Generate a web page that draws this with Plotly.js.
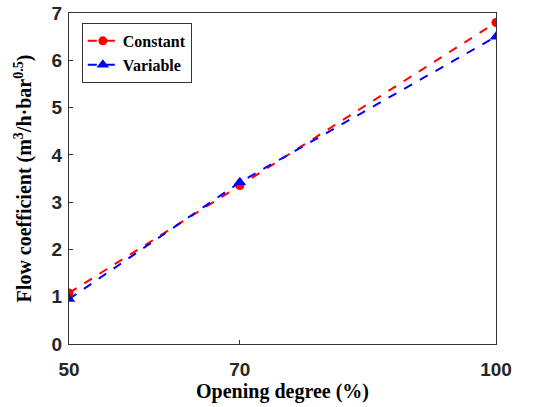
<!DOCTYPE html>
<html>
<head>
<meta charset="utf-8">
<script src="https://cdn.plot.ly/plotly-3.0.1.min.js"></script>
<style>html,body{margin:0;padding:0;background:#fff;}#chart{width:534px;height:407px;}</style>
</head>
<body>
<div id="chart"></div>
<script>
const opening = [50, 70, 100];
const constantFlow = [1.08, 3.35, 6.8];
const variableFlow = [0.95, 3.42, 6.5];
const xTicks = [50, 70, 100];
const yTicks = [0, 1, 2, 3, 4, 5, 6, 7];

const serif = 'Liberation Serif, Times New Roman, serif';
const sans = 'Liberation Sans, Arial, sans-serif';

const data = [
  {x: opening, y: constantFlow, name: '<b>Constant</b>', type: 'scatter', mode: 'lines+markers',
   line: {color: '#ff0000', width: 2, dash: 'dash'},
   marker: {color: '#ff0000', symbol: 'circle', size: 9}},
  {x: opening, y: variableFlow, name: '<b>Variable</b>', type: 'scatter', mode: 'lines+markers',
   line: {color: '#0000ff', width: 2, dash: 'dash'},
   marker: {color: '#0000ff', symbol: 'triangle-up', size: 11}}
];

const layout = {
  width: 534, height: 407,
  margin: {l: 69, r: 38, t: 13, b: 63},
  paper_bgcolor: '#fff', plot_bgcolor: '#fff',
  showlegend: true,
  legend: {x: 0.03, y: 0.97, xanchor: 'left', yanchor: 'top',
           bordercolor: '#333', borderwidth: 1, bgcolor: '#fff',
           font: {family: serif, size: 16, color: '#000'}, tracegroupgap: 2},
  xaxis: {range: [50, 100], tickvals: xTicks, ticktext: xTicks.map(String),
          ticks: 'inside', ticklen: 4, tickcolor: '#333',
          showline: true, linecolor: '#333', linewidth: 1, mirror: true,
          showgrid: false, zeroline: false, ticklabelstandoff: 8,
          tickfont: {family: sans, size: 19, color: '#262626', weight: 'bold'},
          title: {text: '<b>Opening degree (%)</b>', font: {family: serif, size: 20, color: '#000'}, standoff: 3}},
  yaxis: {range: [0, 7], tickvals: yTicks, ticktext: yTicks.map(String),
          ticks: 'inside', ticklen: 4, tickcolor: '#333',
          showline: true, linecolor: '#333', linewidth: 1, mirror: true,
          showgrid: false, zeroline: false, ticklabelstandoff: 2,
          tickfont: {family: sans, size: 19, color: '#262626', weight: 'bold'},
          title: {text: '<b>Flow coefficient (m<sup>3</sup>/h·bar<sup>0.5</sup>)</b>', font: {family: serif, size: 20, color: '#000'}, standoff: 14}}
};

Plotly.newPlot('chart', data, layout, {displayModeBar: false, staticPlot: true});
</script>
</body>
</html>
